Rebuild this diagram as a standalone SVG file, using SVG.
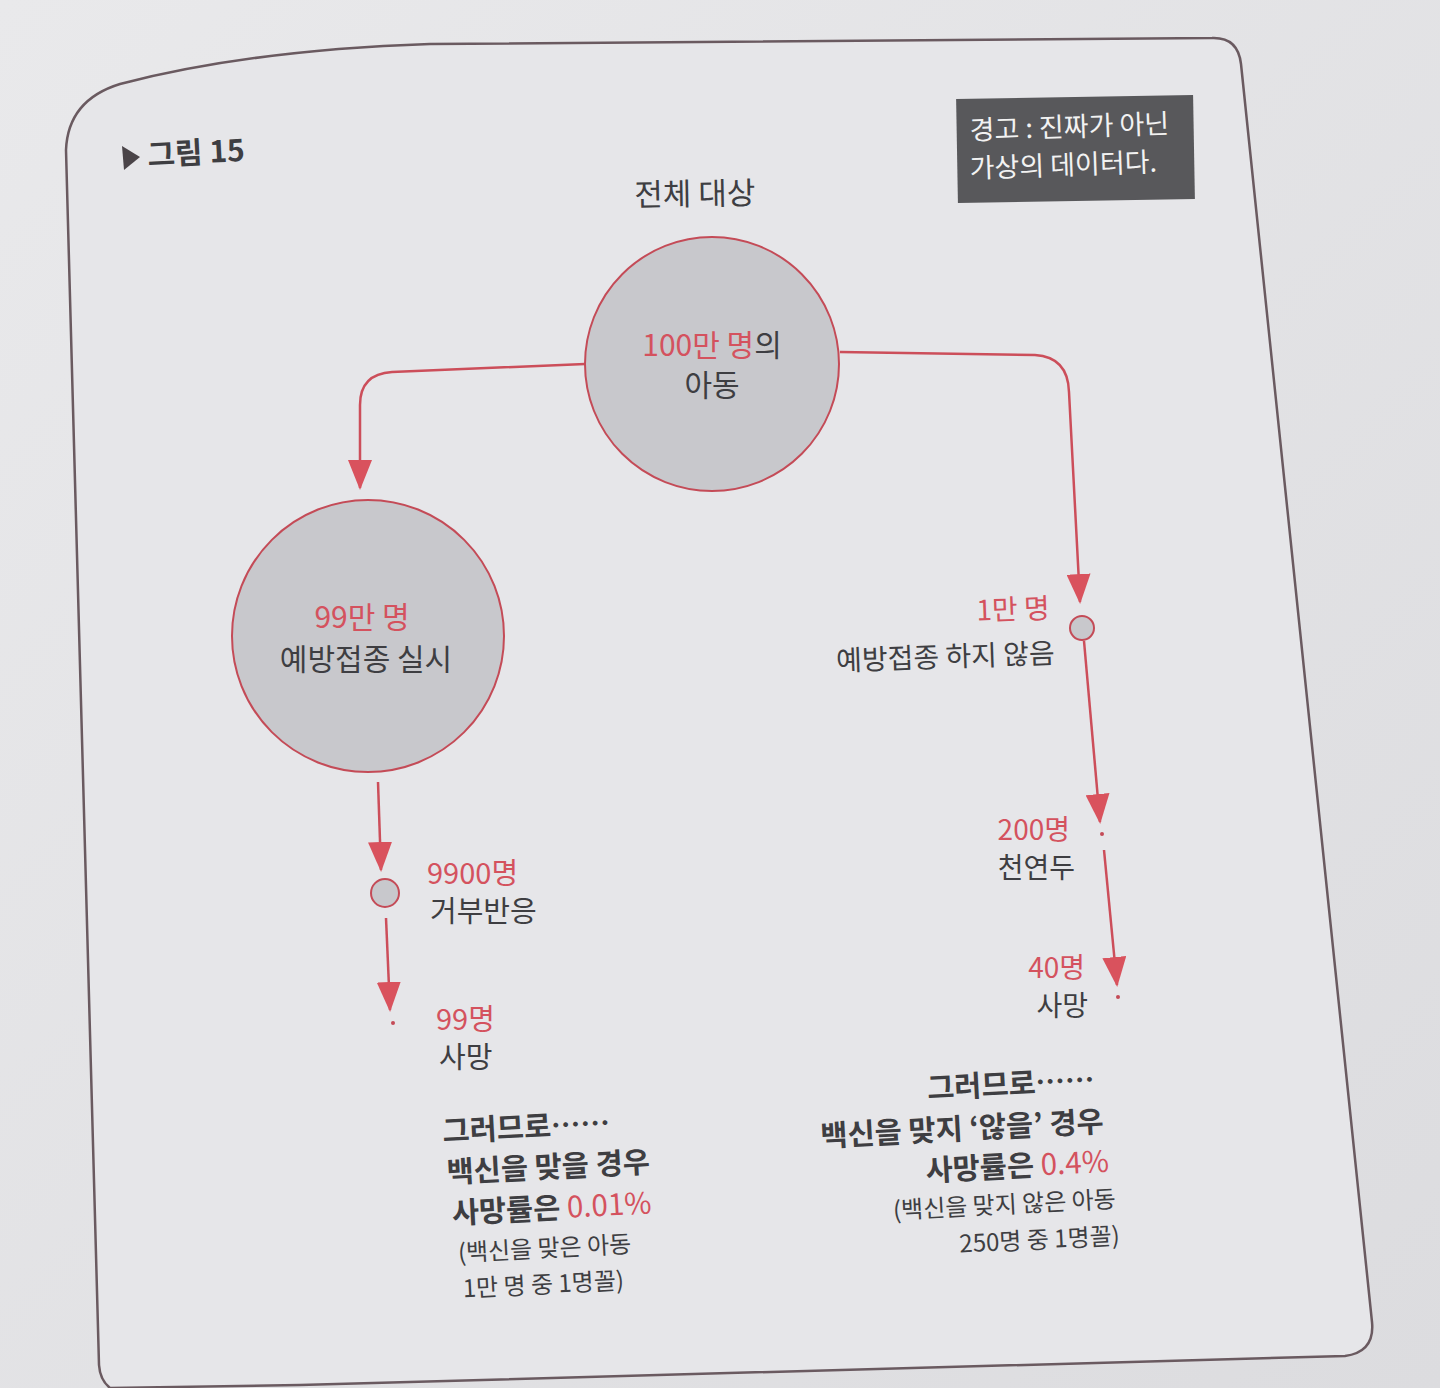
<svg xmlns="http://www.w3.org/2000/svg" width="1440" height="1388" viewBox="0 0 1440 1388">
<defs>
<linearGradient id="bg" x1="0" y1="0" x2="1" y2="1">
<stop offset="0" stop-color="#e9e9eb"/>
<stop offset="1" stop-color="#dcdcdf"/>
</linearGradient>
<marker id="ah" viewBox="0 0 30 24" markerWidth="30" markerHeight="24" refX="28" refY="12" orient="auto" markerUnits="userSpaceOnUse">
<path d="M0 0 L30 12 L0 24 Z" fill="#d9525d"/>
</marker>
<style>
.t{font-family:"Noto Sans CJK KR","Noto Sans",sans-serif;fill:#3e3e42}
.r{fill:#d4525e}
.big{font-size:30px}
.sm{font-size:24px}
.cc{font-size:29.5px;font-weight:bold}
.circ{fill:#c8c8cc;stroke:#c44b57;stroke-width:2}
.ln{fill:none;stroke:#cc4e5a;stroke-width:2.5}
</style>
</defs>
<rect width="1440" height="1388" fill="url(#bg)"/>
<path d="M66 150 Q68 100 120 84 Q250 50 430 44 L1212 38 Q1238 37 1241 64 L1372 1322 Q1375 1352 1345 1356 L300 1385 L110 1388 Q100 1380 99 1365 Z" fill="#e6e6e9" stroke="#6a5a60" stroke-width="2.5"/>

<g id="title">
<path d="M122 146 L140 157 L124 170 Z" fill="#4a4448"/>
<text class="t" x="148" y="166" font-size="30" font-weight="bold" transform="rotate(-3 148 166)">그림 15</text>
</g>

<g id="warning">
<rect x="957" y="97" width="237" height="104" fill="#58585b" transform="rotate(-1 1075 149)"/>
<text class="t" x="970" y="140" font-size="27" style="fill:#f2f2f2" transform="rotate(-2 970 140)">경고 : 진짜가 아닌</text>
<text class="t" x="970" y="178" font-size="27" style="fill:#f2f2f2" transform="rotate(-2 970 178)">가상의 데이터다.</text>
</g>

<g id="connectors">
<path class="ln" d="M585 364 L392 372 Q360 374 360 405 L360 488" marker-end="url(#ah)"/>
<path class="ln" d="M840 352 L1035 355 Q1068 357 1069 392 L1080 602" marker-end="url(#ah)"/>
<path class="ln" d="M1084 641 L1100 822" marker-end="url(#ah)"/>
<path class="ln" d="M1104 850 L1117 985" marker-end="url(#ah)"/>
<path class="ln" d="M378 782 L381 870" marker-end="url(#ah)"/>
<path class="ln" d="M386 918 L390 1010" marker-end="url(#ah)"/>
</g>

<g id="root">
<text class="t" x="695" y="205" font-size="31" text-anchor="middle" transform="rotate(-1 695 205)">전체 대상</text>
<circle class="circ" cx="712" cy="364" r="127"/>
<text class="t big" x="712" y="356" font-size="28" text-anchor="middle"><tspan class="r">100만 명</tspan>의</text>
<text class="t big" x="712" y="396" font-size="28" text-anchor="middle">아동</text>
</g>

<g id="vaccinated">
<circle class="circ" cx="368" cy="636" r="136"/>
<text class="t r big" x="362" y="628" text-anchor="middle">99만 명</text>
<text class="t big" x="366" y="670" text-anchor="middle">예방접종 실시</text>
</g>

<g id="notvaccinated">
<circle class="circ" cx="1082" cy="628" r="12"/>
<text class="t r" x="1050" y="618" font-size="28" text-anchor="end" transform="rotate(-2 1050 618)">1만 명</text>
<text class="t" x="1055" y="663" font-size="28" text-anchor="end" transform="rotate(-2 1055 663)">예방접종 하지 않음</text>
</g>

<g id="reaction">
<circle class="circ" cx="385" cy="893" r="14"/>
<text class="t r" x="427" y="884" font-size="29">9900명</text>
<text class="t" x="430" y="922" font-size="29">거부반응</text>
</g>

<g id="death-left">
<circle cx="393" cy="1023" r="2" fill="#c44b57"/>
<text class="t r" x="436" y="1030" font-size="29">99명</text>
<text class="t" x="439" y="1068" font-size="29">사망</text>
</g>

<g id="smallpox">
<circle cx="1102" cy="834" r="2" fill="#c44b57"/>
<text class="t r" x="1070" y="840" font-size="28" text-anchor="end">200명</text>
<text class="t" x="1075" y="878" font-size="28" text-anchor="end">천연두</text>
</g>

<g id="death-right">
<circle cx="1118" cy="997" r="2" fill="#c44b57"/>
<text class="t r" x="1085" y="978" font-size="28" text-anchor="end">40명</text>
<text class="t" x="1088" y="1016" font-size="28" text-anchor="end">사망</text>
</g>

<g id="conclusion-left" transform="rotate(-3 445 1140)">
<text class="t cc" x="443" y="1142">그러므로……</text>
<text class="t cc" x="445" y="1183">백신을 맞을 경우</text>
<text class="t cc" x="448" y="1224">사망률은 <tspan class="r" font-weight="normal">0.01%</tspan></text>
<text class="t sm" x="452" y="1262">(백신을 맞은 아동</text>
<text class="t sm" x="455" y="1298">1만 명 중 1명꼴)</text>
</g>

<g id="conclusion-right" transform="rotate(-3 1100 1090)">
<text class="t cc" x="1095" y="1090" text-anchor="end">그러므로……</text>
<text class="t cc" x="1102" y="1132" text-anchor="end">백신을 맞지 ‘않을’ 경우</text>
<text class="t cc" x="1105" y="1172" text-anchor="end">사망률은 <tspan class="r" font-weight="normal">0.4%</tspan></text>
<text class="t sm" x="1110" y="1208" text-anchor="end">(백신을 맞지 않은 아동</text>
<text class="t sm" x="1112" y="1245" text-anchor="end">250명 중 1명꼴)</text>
</g>
</svg>
